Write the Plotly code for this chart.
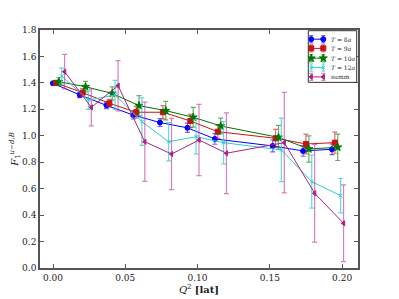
import plotly.graph_objects as go

q2_base = [0.0, 0.0185, 0.037, 0.0555, 0.074, 0.093, 0.112, 0.152, 0.173, 0.193]
x_shift = [0.0, 0.002, 0.004, 0.006, 0.008]

names = ["<i>T</i> = 8<i>a</i>", "<i>T</i> = 9<i>a</i>", "<i>T</i> = 10<i>a</i>", "<i>T</i> = 12<i>a</i>", "summ"]

y_t8 = [1.397, 1.309, 1.23, 1.157, 1.10, 1.06, 0.976, 0.923, 0.885, 0.898]
e_t8 = [0.01, 0.02, 0.025, 0.03, 0.03, 0.035, 0.04, 0.045, 0.04, 0.04]

y_t9 = [1.40, 1.326, 1.246, 1.178, 1.178, 1.112, 1.031, 0.981, 0.938, 0.948]
e_t9 = [0.015, 0.03, 0.03, 0.045, 0.05, 0.05, 0.05, 0.068, 0.075, 0.08]

y_t10 = [1.409, 1.371, 1.32, 1.228, 1.19, 1.14, 1.074, 0.988, 0.90, 0.913]
e_t10 = [0.03, 0.04, 0.05, 0.075, 0.07, 0.075, 0.06, 0.09, 0.1, 0.1]

y_t12 = [1.452, 1.27, 1.309, 1.107, 0.955, 0.993, 0.948, 0.893, 0.653, 0.547]
e_t12 = [0.06, 0.07, 0.11, 0.18, 0.145, 0.13, 0.16, 0.24, 0.2, 0.13]

y_summ = [1.485, 1.215, 1.379, 0.955, 0.862, 0.968, 0.868, 0.948, 0.565, 0.338]
e_summ = [0.13, 0.14, 0.19, 0.30, 0.27, 0.27, 0.305, 0.38, 0.37, 0.29]

x_ticks = [0.0, 0.05, 0.10, 0.15, 0.20]
x_ticklabels = ["0.00", "0.05", "0.10", "0.15", "0.20"]
y_ticks = [0, 0.2, 0.4, 0.6, 0.8, 1.0, 1.2, 1.4, 1.6, 1.8]
y_ticklabels = ["0.0", "0.2", "0.4", "0.6", "0.8", "1.0", "1.2", "1.4", "1.6", "1.8"]

ys = [y_t8, y_t9, y_t10, y_t12, y_summ]
es = [e_t8, e_t9, e_t10, e_t12, e_summ]
colors = ["#0000ff", "#cc1111", "#007700", "#33cccc", "#aa2288"]
bar_colors = ["rgba(0,0,255,0.6)", "rgba(204,17,17,0.6)", "rgba(0,119,0,0.6)",
              "rgba(51,204,204,0.75)", "rgba(190,60,160,0.65)"]
symbols = ["circle", "square", "star", "x-thin-open", "triangle-left"]
sizes = [5, 5, 6, 3.5, 4.5]

fig = go.Figure()
for i in range(5):
    fig.add_trace(go.Scatter(
        x=[q + x_shift[i] for q in q2_base], y=ys[i], name=names[i],
        mode="lines+markers", showlegend=False,
        line=dict(color=colors[i], width=1),
        marker=dict(symbol=symbols[i], size=sizes[i], color=colors[i],
                    line=dict(color=colors[i], width=1)),
        error_y=dict(type="data", array=es[i], color=bar_colors[i],
                     thickness=1.2, width=2.5),
    ))

# compact matplotlib-style legend drawn on a hidden overlay axis
leg_dom_x = [0.8437, 0.9959]
leg_dom_y = [0.780, 0.997]
leg_rows = [0.836, 0.658, 0.468, 0.285, 0.106]
for i in range(5):
    fig.add_trace(go.Scatter(
        x=[0.06, 0.31], y=[leg_rows[i], leg_rows[i]], xaxis="x2", yaxis="y2",
        mode="lines+markers", showlegend=False, hoverinfo="skip",
        line=dict(color=colors[i], width=1),
        marker=dict(symbol=symbols[i], size=sizes[i], color=colors[i],
                    line=dict(color=colors[i], width=1)),
        error_y=dict(type="constant", value=0.07, color=bar_colors[i],
                     thickness=1.2, width=2),
    ))
    fig.add_annotation(x=0.42, y=leg_rows[i], xref="x2", yref="y2", text=names[i],
                       showarrow=False, xanchor="left", yanchor="middle",
                       font=dict(family="DejaVu Serif", size=6, color="#222222"))

fig.add_shape(type="rect", xref="paper", yref="paper",
              x0=leg_dom_x[0], x1=leg_dom_x[1], y0=leg_dom_y[0], y1=leg_dom_y[1],
              line=dict(color="#333333", width=1), fillcolor="rgba(0,0,0,0)", layer="above")

axis_common = dict(showline=True, linecolor="#555555", linewidth=1.5, mirror="ticks",
                   ticks="inside", ticklen=4, tickcolor="#555555", showgrid=False,
                   zeroline=False, automargin=False,
                   tickfont=dict(family="DejaVu Serif", size=9, color="#222222"))

xaxis = dict(range=[-0.009, 0.211], tickvals=x_ticks, ticktext=x_ticklabels,
             title=dict(text="<i>Q</i><sup>2</sup> <b>[lat]</b>",
                        font=dict(family="DejaVu Serif", size=10, color="#222222"),
                        standoff=2),
             **axis_common)
yaxis = dict(range=[0, 1.8], tickvals=y_ticks, ticktext=y_ticklabels,
             title=dict(text="<i>F</i><sub>1</sub><sup><i>u−d,B</i></sup>",
                        font=dict(family="DejaVu Serif", size=10, color="#222222"),
                        standoff=4),
             **axis_common)

fig.update_layout(
    width=391, height=291,
    margin=dict(l=32, r=41, t=22, b=31, autoexpand=False),
    paper_bgcolor="white", plot_bgcolor="white",
    showlegend=False,
    xaxis=xaxis, yaxis=yaxis,
    xaxis2=dict(domain=leg_dom_x, range=[0, 1], anchor="y2", visible=False, fixedrange=True),
    yaxis2=dict(domain=leg_dom_y, range=[0, 1], anchor="x2", visible=False, fixedrange=True),
)

fig.write_html("out.html")
